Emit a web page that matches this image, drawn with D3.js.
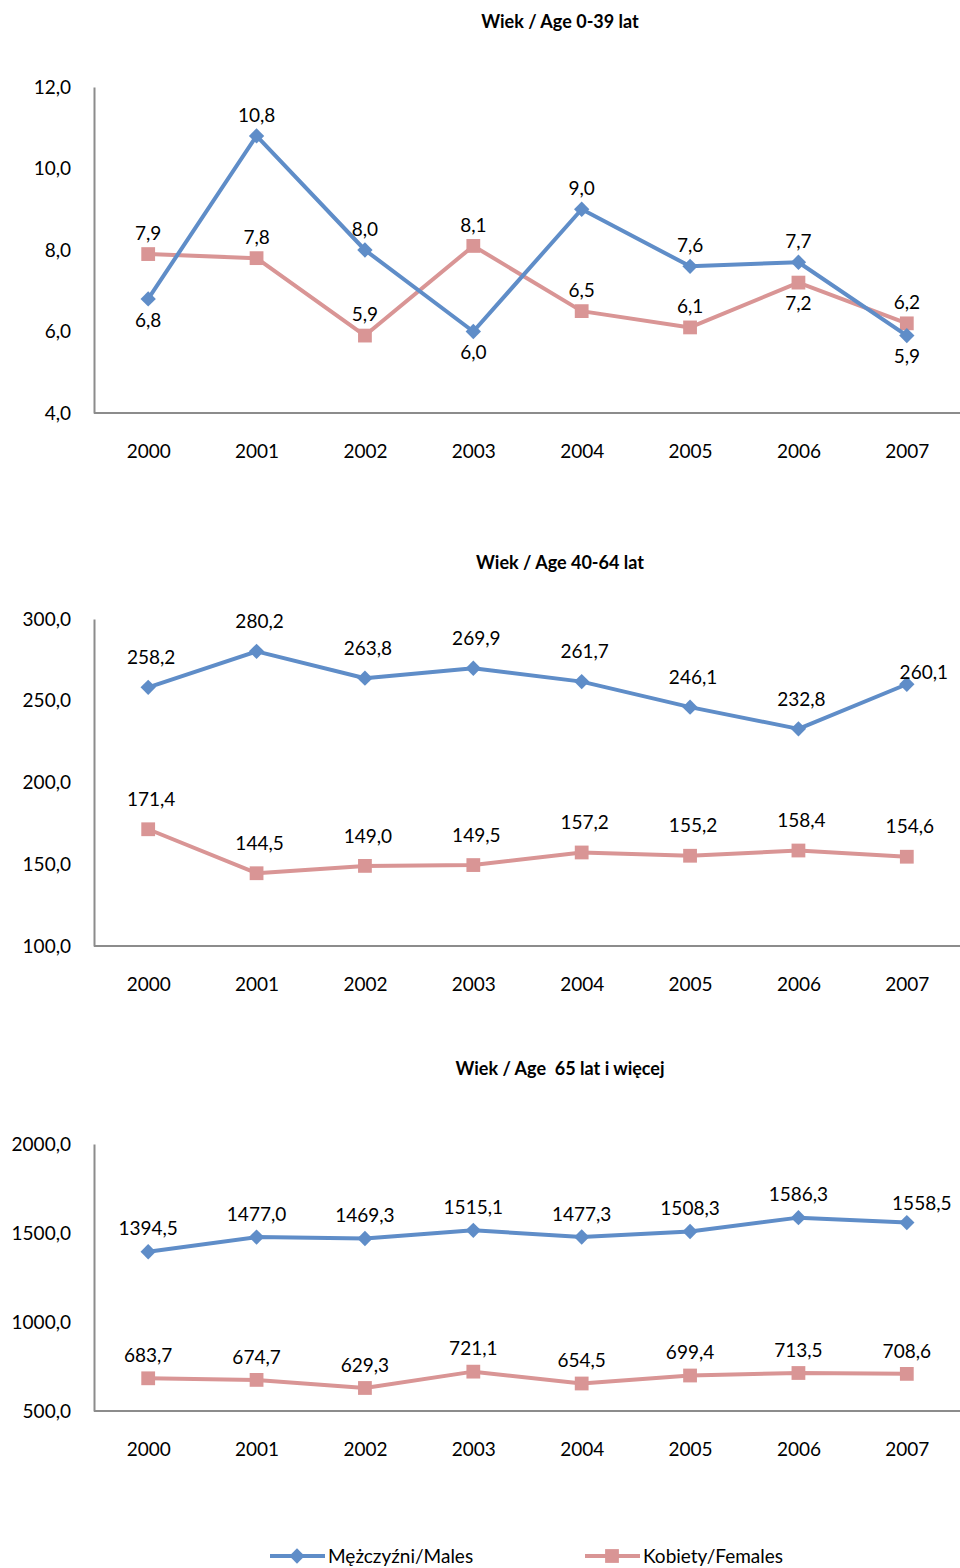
<!DOCTYPE html>
<html><head><meta charset="utf-8">
<script src="https://cdn.jsdelivr.net/npm/d3@7"></script>
<style>body{margin:0;background:#fff}svg{display:block}text{font-family:Lato,"Open Sans",sans-serif;fill:#000;white-space:pre}</style>
</head><body><svg id="c" width="960" height="1568"></svg>
<script>
const years = ["2000","2001","2002","2003","2004","2005","2006","2007"];
const titles = ["Wiek / Age 0-39 lat","Wiek / Age 40-64 lat","Wiek / Age  65 lat i więcej"];
const seriesNames = ["Mężczyźni/Males","Kobiety/Females"];
const males0 = [6.8,10.8,8.0,6.0,9.0,7.6,7.7,5.9];
const females0 = [7.9,7.8,5.9,8.1,6.5,6.1,7.2,6.2];
const males1 = [258.2,280.2,263.8,269.9,261.7,246.1,232.8,260.1];
const females1 = [171.4,144.5,149.0,149.5,157.2,155.2,158.4,154.6];
const males2 = [1394.5,1477.0,1469.3,1515.1,1477.3,1508.3,1586.3,1558.5];
const females2 = [683.7,674.7,629.3,721.1,654.5,699.4,713.5,708.6];
const ticks0 = [4,6,8,10,12];
const ticks1 = [100,150,200,250,300];
const ticks2 = [500,1000,1500,2000];
// label placement (layout, not data)
const placeM0 = ["below","above","above","below","above","above","above","below"];
const placeF0 = ["above","above","above","above","above","above","below","above"];
const placeM1 = ["above","above","above","above","above","above","above","right"];
const placeF1 = Array(8).fill("above");
const placeM2 = ["above","above","above","above","above","above","above","aboveR"];
const placeF2 = Array(8).fill("above");

const panels = [
  {title:titles[0], m:males0, f:females0, ticks:ticks0, pm:placeM0, pf:placeF0, top:87, bottom:413, titleY:22, off:21},
  {title:titles[1], m:males1, f:females1, ticks:ticks1, pm:placeM1, pf:placeF1, top:619, bottom:946, titleY:563, off:30},
  {title:titles[2], m:males2, f:females2, ticks:ticks2, pm:placeM2, pf:placeF2, top:1144, bottom:1411, titleY:1069, off:23}
];
const blue = "#5f8dc8", pink = "#d99595", axisCol = "#8c8c8c";
const fmt = v => d3.format(".1f")(v).replace(".", ",");
const svg = d3.select("#c");
const x = d3.scalePoint().domain(years).range([94, 961]).padding(0.5);
const diamond = d3.symbol().type(d3.symbolDiamond2).size(150);
const square = d3.symbol().type(d3.symbolSquare).size(190);
const FS = "19px";

panels.forEach(p => {
  const y = d3.scaleLinear().domain([p.ticks[0], p.ticks[p.ticks.length-1]]).range([p.bottom, p.top]);
  const g = svg.append("g");
  g.append("text").attr("x", 560).attr("y", p.titleY).attr("dy","0.35em").attr("text-anchor","middle")
    .style("font-weight","bold").style("font-size","18px").text(p.title);
  const ya = g.append("g").attr("transform","translate(94,0)")
    .call(d3.axisLeft(y).tickValues(p.ticks).tickSize(0).tickPadding(23).tickFormat(fmt));
  ya.select(".domain").attr("stroke", axisCol).attr("stroke-width",2);
  ya.selectAll("text").style("font-size",FS).attr("font-family",null);
  const xa = g.append("g").attr("transform",`translate(0,${p.bottom})`)
    .call(d3.axisBottom(x).tickSize(0).tickPadding(0));
  xa.select(".domain").attr("stroke", axisCol).attr("stroke-width",2).attr("d", `M94,0H960`);
  xa.selectAll("text").attr("y", 38).attr("dy","0.35em").style("font-size",FS).attr("font-family",null);

  const line = d3.line().x((d,i)=>x(years[i])).y(d=>y(d));
  [[p.f, pink, square],[p.m, blue, diamond]].forEach(([vals,col,sym]) => {
    g.append("path").attr("d", line(vals)).attr("fill","none").attr("stroke",col).attr("stroke-width",4).attr("stroke-linejoin","round");
    g.selectAll(null).data(vals).join("path")
      .attr("transform",(d,i)=>`translate(${x(years[i])},${y(d)})`).attr("d", sym).attr("fill", col);
  });
  [[p.f, p.pf],[p.m, p.pm]].forEach(([vals,pl]) => {
    g.selectAll(null).data(vals).join("text")
      .attr("x",(d,i)=>x(years[i]) + (pl[i]==="right"?17:pl[i]==="aboveR"?15:(p.off>25?3:0)))
      .attr("y",(d,i)=>y(d) + (pl[i]==="below"?p.off:pl[i]==="right"?-12:pl[i]==="aboveR"?-19:-p.off))
      .attr("dy","0.35em").attr("text-anchor","middle").style("font-size",FS).text(d=>fmt(d));
  });
});

// legend
const lg = svg.append("g").attr("transform","translate(0,1556)");
[[270, blue, diamond, seriesNames[0]],[585, pink, square, seriesNames[1]]].forEach(([lx,col,sym,name])=>{
  lg.append("line").attr("x1",lx).attr("x2",lx+55).attr("stroke",col).attr("stroke-width",4);
  lg.append("path").attr("transform",`translate(${lx+27},0)`).attr("d", sym).attr("fill",col);
  lg.append("text").attr("x",lx+58).attr("dy","0.35em").style("font-size",FS).text(name);
});
</script></body></html>
